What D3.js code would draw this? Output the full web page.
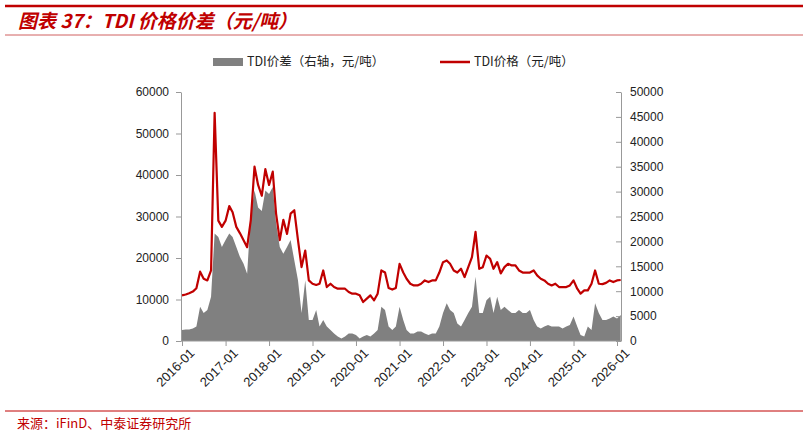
<!DOCTYPE html>
<html><head><meta charset="utf-8">
<script src="https://cdn.jsdelivr.net/npm/d3@7"></script>
<style>body{margin:0;background:#fff}</style></head>
<body><svg id="c" width="803" height="435"></svg>
<script>
const startMonth = "2016-01";
const price = [11000,11200,11500,11900,12700,16700,15000,14600,17000,55000,29000,27500,
29000,32500,31000,27500,26000,24300,22600,29200,42000,37600,35000,41400,
37600,40800,30700,24300,29200,25800,30700,31500,24300,17800,21800,14600,
13800,13500,13800,17000,13000,13800,13000,12600,12600,12600,11800,11400,
11400,11000,9400,10200,11000,9800,11400,17000,16500,12800,12400,12800,
18600,16500,15000,13800,13400,13400,13800,14600,14200,14600,14600,16500,
19000,19400,18600,17000,16500,17400,15400,17800,20200,26300,17400,17800,
20600,19800,17400,19000,16300,17800,18600,18200,18200,17000,16500,16500,
16500,17000,15800,15000,14600,13800,13400,13800,13000,13000,13000,13400,
14600,12600,11400,12200,12200,13800,17000,13800,13700,14000,14600,14200,
14600,14700];
const spread = [2200,2300,2300,2500,2900,6900,5600,6200,8900,21600,20900,18900,
20300,21600,20900,18900,16900,15500,13500,25500,30200,26800,26100,30200,
29500,30900,23700,18900,17500,18900,20300,16200,12200,5600,12200,4200,
4200,6200,2900,4200,2900,2200,1500,900,500,900,1500,1500,
1200,500,900,1200,900,1500,2200,6900,6200,2900,2200,2900,
6900,4200,2200,1500,1500,1900,1900,1500,1200,1500,1500,2900,
5600,7600,6200,5600,3500,2900,4200,5600,6900,12900,5600,5600,
8200,8900,5600,8900,6200,6900,6200,5600,5600,6200,5600,5600,
6200,4200,2900,2500,2900,3200,2900,2900,2900,2500,2900,3200,
4900,2900,1200,900,2900,2200,7600,5600,4200,4200,4500,4900,
4500,5200];
const leftTicks = [0,10000,20000,30000,40000,50000,60000];
const rightTicks = [0,5000,10000,15000,20000,25000,30000,35000,40000,45000,50000];
const xTickLabels = ["2016-01","2017-01","2018-01","2019-01","2020-01","2021-01","2022-01","2023-01","2024-01","2025-01","2026-01"];

const parse = d3.timeParse("%Y-%m");
const t0 = parse(startMonth);
const dates = price.map((_, i) => d3.timeMonth.offset(t0, i));
const svg = d3.select("#c");
const font = "'Noto Sans CJK SC','Liberation Sans',sans-serif";

// header / footer
svg.append("line").attr("x1",5).attr("x2",803).attr("y1",6).attr("y2",6).attr("stroke","#c00000").attr("stroke-width",2.5);
svg.append("text").attr("x",18).attr("y",28).attr("fill","#c00000").attr("font-size",19).attr("font-weight","bold").attr("font-style","italic").attr("font-family",font).text("图表 37：TDI 价格价差（元/吨）");
svg.append("line").attr("x1",5).attr("x2",803).attr("y1",35).attr("y2",35).attr("stroke","#d06060").attr("stroke-width",1);
svg.append("line").attr("x1",5).attr("x2",803).attr("y1",411).attr("y2",411).attr("stroke","#c00000").attr("stroke-width",1);
svg.append("text").attr("x",17).attr("y",428).attr("fill","#c00000").attr("font-size",13).attr("font-family",font).text("来源：iFinD、中泰证券研究所");

const x = d3.scaleTime().domain([parse("2016-01"), parse("2026-01")]).range([182, 617]);
const yL = d3.scaleLinear().domain([0,60000]).range([341,92]);
const yR = d3.scaleLinear().domain([0,50000]).range([341,92]);

// spread area
svg.append("path").datum(spread)
  .attr("fill","#808080")
  .attr("d", d3.area().x((d,i)=>x(dates[i])).y0(yR(0)).y1(d=>yR(d)));
// price line
svg.append("path").datum(price)
  .attr("fill","none").attr("stroke","#c00000").attr("stroke-width",2.2).attr("stroke-linejoin","round")
  .attr("d", d3.line().x((d,i)=>x(dates[i])).y(d=>yL(d)));

const axStyle = g => { g.selectAll("path,line").attr("stroke","#999"); g.selectAll("text").attr("fill","#222").attr("font-size",12).attr("font-family","'Liberation Sans',Arial,sans-serif"); };
svg.append("g").attr("transform","translate(181,0)").call(d3.axisLeft(yL).tickValues(leftTicks).tickSize(5).tickSizeOuter(0).tickFormat(d3.format("d"))).call(axStyle).call(g=>g.selectAll("text").attr("dx",-4));
svg.append("g").attr("transform","translate(621,0)").call(d3.axisRight(yR).tickValues(rightTicks).tickSize(-5).tickSizeOuter(0).tickFormat(d3.format("d"))).call(axStyle).call(g=>g.selectAll("text").attr("x",9));
const xa = svg.append("g").attr("transform","translate(0,341)")
  .call(d3.axisBottom(x).tickValues(xTickLabels.map(parse)).tickSize(5).tickSizeOuter(0).tickFormat(d3.timeFormat("%Y-%m")))
  .call(axStyle);
xa.select(".domain").attr("d","M181,0H621");
xa.selectAll("text").attr("text-anchor","end").attr("transform","translate(4,4) rotate(-45)").attr("dy","0.35em").attr("y",8).attr("x",0).attr("font-size",13);

// legend
svg.append("rect").attr("x",213).attr("y",58).attr("width",30).attr("height",8).attr("fill","#808080");
svg.append("text").attr("x",247).attr("y",66).attr("font-size",12.5).attr("fill","#222").attr("font-family",font).text("TDI价差（右轴，元/吨）");
svg.append("line").attr("x1",440).attr("x2",470).attr("y1",62).attr("y2",62).attr("stroke","#c00000").attr("stroke-width",2.5);
svg.append("text").attr("x",474).attr("y",66).attr("font-size",12.5).attr("fill","#222").attr("font-family",font).text("TDI价格（元/吨）");
</script></body></html>
